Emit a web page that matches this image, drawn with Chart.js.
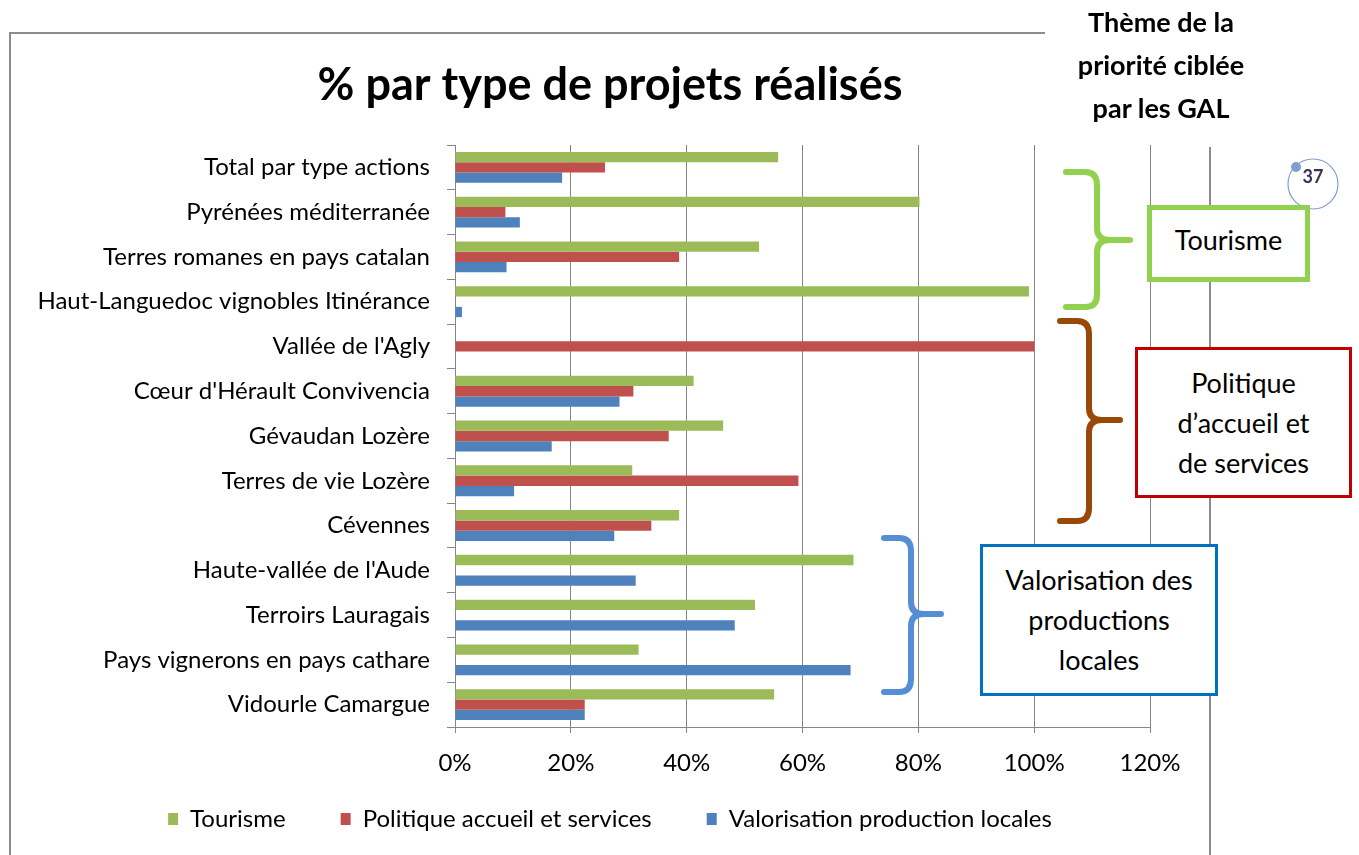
<!DOCTYPE html>
<html lang="fr">
<head>
<meta charset="utf-8">
<title>% par type de projets réalisés</title>
<script src="https://cdn.jsdelivr.net/npm/chart.js@4.4.1/dist/chart.umd.min.js"></script>
<style>
  body { margin: 0; background: #fff; font-family: Lato, sans-serif; }
  #page { position: relative; width: 1359px; height: 855px; overflow: hidden; }
  #chart, svg { position: absolute; left: 0; top: 0; }
  .box { position: absolute; box-sizing: border-box; display: flex; align-items: center; justify-content: center;
         text-align: center; font-size: 27px; line-height: 40px; color: #000; background: #fff; }
  #theme { position: absolute; left: 1031px; top: 0; width: 260px; text-align: center; font-weight: bold;
           font-size: 27px; line-height: 43px; color: #000; }
  #badge { position: absolute; left: 1296px; top: 165px; width: 34px; text-align: center; font-weight: bold;
           font-size: 18px; color: #403152; }
</style>
</head>
<body>
<div id="page">
  <svg width="1359" height="855">
    <!-- cadre du graphique -->
    <path d="M10,855 L10,33 L1045,33 M1210,147 L1210,855" fill="none" stroke="#8c8c8c" stroke-width="2"/>
  </svg>
  <canvas id="chart" width="1359" height="855"></canvas>
  <svg width="1359" height="855">
    <g fill="none" stroke-width="6" stroke-linecap="round" stroke-linejoin="round">
      <path stroke="#92d050" d="M1066,172 L1085,172 Q1097,172 1097,185 L1097,228 Q1097,240 1110,240 L1130,240 M1110,240 Q1097,240 1097,252 L1097,295 Q1097,307 1085,307 L1066,307"/>
      <path stroke="#984807" d="M1060,321 L1077,321 Q1089,321 1089,334 L1089,408 Q1089,420 1102,420 L1120,420 M1102,420 Q1089,420 1089,432 L1089,508 Q1089,521 1077,521 L1060,521"/>
      <path stroke="#558ed5" d="M884,538 L899,538 Q911,538 911,551 L911,602 Q911,614 924,614 L941,614 M924,614 Q911,614 911,626 L911,679 Q911,692 899,692 L884,692"/>
    </g>
    <circle cx="1313" cy="184" r="25" fill="#fff" stroke="#7f9fcf" stroke-width="1.2"/>
    <circle cx="1296" cy="167" r="5" fill="#7f9fcf"/>
  </svg>
  <div id="badge">37</div>
  <div id="theme">Thème de la<br>priorité ciblée<br>par les GAL</div>
  <div class="box" style="left:1147px;top:205px;width:163px;height:77px;border:5px solid #92d050;padding-bottom:8px">Tourisme</div>
  <div class="box" style="left:1135px;top:347px;width:217px;height:151px;border:3px solid #c00000">Politique<br>d’accueil et<br>de services</div>
  <div class="box" style="left:980px;top:544px;width:238px;height:152px;border:3px solid #0070c0">Valorisation des<br>productions<br>locales</div>
</div>
<script>
// données (en %)
const categories = [
    'Total par type actions',
    'Pyrénées méditerranée',
    'Terres romanes en pays catalan',
    'Haut-Languedoc vignobles Itinérance',
    "Vallée de l'Agly",
    "Cœur d'Hérault Convivencia",
    'Gévaudan Lozère',
    'Terres de vie Lozère',
    'Cévennes',
    "Haute-vallée de l'Aude",
    'Terroirs Lauragais',
    'Pays vignerons en pays cathare',
    'Vidourle Camargue'
];
const tourisme = [55.8, 80.2, 52.5, 99.1, null, 41.2, 46.3, 30.6, 38.7, 68.8, 51.8, 31.7, 55.1];
const politique = [25.9, 8.7, 38.7, null, 100, 30.8, 36.9, 59.3, 33.9, null, null, null, 22.4];
const valorisation = [18.5, 11.2, 8.9, 1.2, null, 28.4, 16.7, 10.2, 27.5, 31.2, 48.3, 68.3, 22.4];
const xTicks = [0, 20, 40, 60, 80, 100, 120];

const FONT = 'Lato';
const LEGEND_LIFT = 25;

// la légende d'Excel est plus haute que ce que donne le padding de Chart.js
const legendLift = {
    id: 'legendLift',
    afterLayout(chart) {
        chart.legend.top -= LEGEND_LIFT;
        chart.legend.bottom -= LEGEND_LIFT;
    }
};

function drawChart() {
    const ctx = document.getElementById('chart');
    new Chart(ctx, {
        type: 'bar',
        data: {
            labels: categories,
            datasets: [
                { label: 'Tourisme', data: tourisme, backgroundColor: '#9bbb59' },
                { label: 'Politique accueil et services', data: politique, backgroundColor: '#c0504d' },
                { label: 'Valorisation production locales', data: valorisation, backgroundColor: '#4f81bd' }
            ]
        },
        plugins: [legendLift],
        options: {
            indexAxis: 'y',
            responsive: false,
            animation: false,
            datasets: { bar: { categoryPercentage: 0.69, barPercentage: 1, borderWidth: 0 } },
            layout: { padding: { left: 0, right: 139, top: 0, bottom: -11 } },
            plugins: {
                title: {
                    display: true,
                    text: '% par type de projets réalisés',
                    color: '#000',
                    font: { family: FONT, size: 45, weight: 'bold' },
                    padding: { top: 58, bottom: 33 }
                },
                legend: {
                    position: 'bottom',
                    labels: { color: '#000', font: { family: FONT, size: 24 }, boxWidth: 10, boxHeight: 12, padding: 55 }
                },
                tooltip: { enabled: false }
            },
            scales: {
                x: {
                    min: 0,
                    max: 120,
                    afterBuildTicks: s => { s.ticks = xTicks.map(v => ({ value: v })); },
                    afterFit: s => { s.height = 50; },
                    grid: { color: '#868686', tickLength: 6 },
                    border: { color: '#868686' },
                    ticks: { padding: 16, color: '#000', font: { family: FONT, size: 24 }, callback: v => v + '%' }
                },
                y: {
                    afterFit: s => { s.width = 455; },
                    grid: { drawOnChartArea: false, tickLength: 8, color: '#868686' },
                    border: { color: '#868686' },
                    ticks: { padding: 17, color: '#000', font: { family: FONT, size: 24 } }
                },
                // axe vide à droite : réserve la place entre 120 % et le cadre
                yPad: {
                    type: 'category',
                    position: 'right',
                    afterFit: s => { s.width = 70; },
                    grid: { display: false },
                    border: { display: false },
                    ticks: { display: false }
                }
            }
        }
    });
}

document.fonts.load('24px Lato').then(drawChart, drawChart);
</script>
</body>
</html>
